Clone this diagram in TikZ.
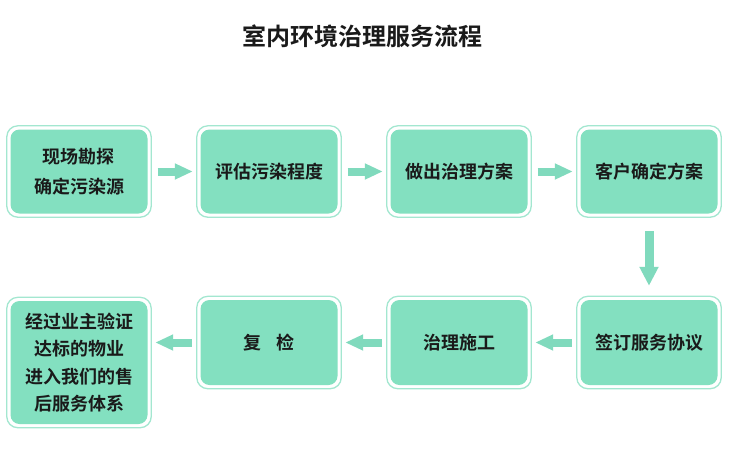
\documentclass[tikz,border=0pt]{standalone}
\usepackage{fontspec}
\newfontfamily\cjkb{Noto Sans CJK SC Bold}
\usetikzlibrary{arrows.meta}
\definecolor{mint}{HTML}{83E0C0}
\definecolor{mintline}{HTML}{A3E7D0}
\definecolor{arrowc}{HTML}{80DABD}
\definecolor{txt}{HTML}{1A1A1A}
\tikzset{
  box/.style={rounded corners=9pt, fill=mint, minimum width=137pt, text=txt,
    align=center, inner sep=0pt, font=\cjkb\fontsize{18}{30}\selectfont},
  frame/.style={draw=mintline, line width=1.3pt, rounded corners=11pt},
  flow/.style={draw=arrowc, line width=8pt, -{Triangle[length=18pt,width=15pt]}},
  flowv/.style={draw=arrowc, line width=9pt, -{Triangle[length=19pt,width=18pt]}},
}
\begin{document}
\begin{tikzpicture}[x=1pt,y=-1pt]
\useasboundingbox (0,0) rectangle (736,453);
\fill[white] (0,0) rectangle (736,453);
\node[font=\cjkb\fontsize{24}{28}\selectfont, text=txt] (title) at (362,36) {室内环境治理服务流程};
% row 1
\node[box, minimum height=84pt] (b1) at (79,171.5) {现场勘探\\确定污染源};
\node[box, minimum height=84pt] (b2) at (269,171.5) {评估污染程度};
\node[box, minimum height=84pt] (b3) at (459,171.5) {做出治理方案};
\node[box, minimum height=84pt] (b4) at (649,171.5) {客户确定方案};
% row 2
\node[box, minimum height=85pt] (b5) at (649,342.5) {签订服务协议};
\node[box, minimum height=85pt] (b6) at (459,342.5) {治理施工};
\node[box, minimum height=85pt] (b7) at (269,342.5) {复\hspace{0.8em}检};
\node[box, minimum height=123pt, font=\cjkb\fontsize{18}{27.5}\selectfont] (b8) at (79,362.5) {经过业主验证\\达标的物业\\进入我们的售\\后服务体系};
% frames
\foreach \n in {b1,b2,b3,b4,b5,b6,b7,b8}
  \draw[frame] ([shift={(-3.5,3.5)}]\n.south west) rectangle ([shift={(3.5,-3.5)}]\n.north east);
% arrows
\coordinate (r2) at (b7.west);
\draw[flow] ([xshift=10pt]b1.east) -- ([xshift=-7.5pt]b2.west);
\draw[flow] ([xshift=10pt]b2.east) -- ([xshift=-7.5pt]b3.west);
\draw[flow] ([xshift=10pt]b3.east) -- ([xshift=-7.5pt]b4.west);
\draw[flowv] ([yshift=-17.5pt]b4.south) -- ([yshift=14pt]b5.north);
\draw[flow] ([xshift=-8.5pt]b5.west) -- ([xshift=7.5pt]b6.east);
\draw[flow] ([xshift=-8.5pt]b6.west) -- ([xshift=7.5pt]b7.east);
\draw[flow] ([xshift=-8.5pt]b7.west) -- ([xshift=7.5pt]b8.east|-r2);
\end{tikzpicture}
\end{document}
